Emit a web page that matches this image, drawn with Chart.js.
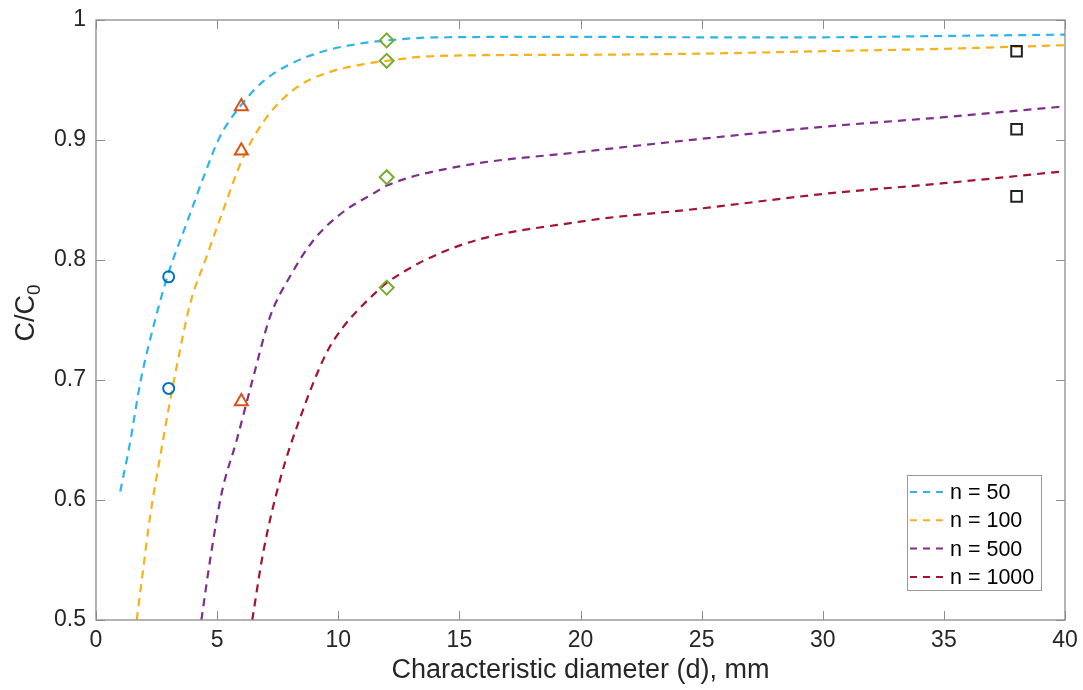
<!DOCTYPE html>
<html><head><meta charset="utf-8">
<script src="https://cdn.jsdelivr.net/npm/chart.js@4.4.1/dist/chart.umd.min.js"></script>
<style>html,body{margin:0;padding:0;background:#fff;}#wrap{width:1083px;height:690px;}</style>
</head><body><div id="wrap"><canvas id="c" width="1083" height="690"></canvas></div>
<script>
// ---- data ----
const seriesNames = ['n = 50', 'n = 100', 'n = 500', 'n = 1000'];
const n50X = [1.0, 1.4, 1.82, 2.3, 2.99, 3.75, 4.44, 5.12, 5.95, 6.91, 8.0, 9.4, 10.8, 12, 14, 20, 25, 30, 35, 40];
const n50Y = [0.607, 0.647, 0.697, 0.739, 0.789, 0.831, 0.869, 0.903, 0.928, 0.949, 0.963, 0.974, 0.980, 0.983, 0.9855, 0.986, 0.9856, 0.9856, 0.9867, 0.9878];
const n100X = [1.68, 1.96, 2.23, 2.58, 2.99, 3.33, 3.88, 4.57, 5.26, 6.09, 7.05, 8.3, 9.7, 11, 12, 14, 20, 25, 30, 35, 40];
const n100Y = [0.5, 0.544, 0.586, 0.628, 0.675, 0.711, 0.763, 0.803, 0.842, 0.886, 0.919, 0.944, 0.957, 0.963, 0.966, 0.970, 0.971, 0.972, 0.974, 0.976, 0.979];
const n500X = [4.35, 4.71, 5.19, 5.81, 6.5, 7.19, 8.0, 9.0, 10.2, 11.5, 12, 15, 20, 25, 30, 35, 40];
const n500Y = [0.5, 0.55, 0.606, 0.65, 0.703, 0.753, 0.786, 0.817, 0.840, 0.856, 0.862, 0.878, 0.890, 0.901, 0.911, 0.919, 0.928];
const n1000X = [6.45, 6.9, 7.6, 8.4, 9.5, 10.2, 10.8, 11.5, 12, 15, 20, 25, 30, 35, 40];
const n1000Y = [0.5, 0.556, 0.617, 0.667, 0.722, 0.744, 0.758, 0.772, 0.781, 0.812, 0.832, 0.843, 0.855, 0.864, 0.874];
const circleX = [3, 3];           const circleY = [0.786, 0.693];
const triX = [6, 6, 6];           const triY = [0.928, 0.891, 0.682];
const diaX = [12, 12, 12, 12];    const diaY = [0.983, 0.966, 0.869, 0.777];
const sqX = [38, 38, 38];         const sqY = [0.974, 0.909, 0.853];
const xTickValues = [0, 5, 10, 15, 20, 25, 30, 35, 40];
const yTickValues = [0.5, 0.6, 0.7, 0.8, 0.9, 1];
const xTitle = 'Characteristic diameter (d), mm';
const yTitleMain = 'C/C';
const yTitleSub = '0';

// ---- build ----
const pts = (xs, ys) => xs.map((x, i) => ({x: x, y: ys[i]}));
const curveColors = ['#2DB4EE', '#F8B118', '#7E2F8E', '#A2142F'];
const curveX = [n50X, n100X, n500X, n1000X];
const curveY = [n50Y, n100Y, n500Y, n1000Y];
const FONT = '"Liberation Sans", Arial, Helvetica, sans-serif';
const AXIS = '#262626';
const BOX = '#8c8c8c';

const datasets = [];
function marker(xs, ys, style, color, r) {
  datasets.push({data: pts(xs, ys), showLine: false, pointStyle: style, pointRadius: r,
    pointBackgroundColor: 'rgba(0,0,0,0)', pointBorderColor: color, pointBorderWidth: 2, order: 0, isMarker: true});
}
marker(circleX, circleY, 'circle', '#0072BD', 5.5);
marker(triX, triY, 'triangle', '#D95319', 7.5);
marker(diaX, diaY, 'rectRot', '#77AC30', 7);
marker(sqX, sqY, 'rect', '#222222', 7.5);
seriesNames.forEach((name, i) => {
  datasets.push({label: name, data: pts(curveX[i], curveY[i]), showLine: true, borderColor: curveColors[i],
    borderWidth: 2.2, borderDash: [8, 6], pointRadius: 0, cubicInterpolationMode: 'monotone', fill: false, order: 1});
});

const boxTicks = {
  id: 'boxTicks',
  afterDatasetsDraw(chart) {
    const {ctx, chartArea: a, scales: {x, y}} = chart;
    ctx.save();
    ctx.strokeStyle = BOX; ctx.lineWidth = 1.3;
    ctx.strokeRect(a.left, a.top, a.right - a.left, a.bottom - a.top);
    const L = 9;
    ctx.beginPath();
    x.ticks.forEach(t => {
      const px = Math.round(x.getPixelForValue(t.value)) + 0.5;
      ctx.moveTo(px, a.bottom); ctx.lineTo(px, a.bottom - L);
      ctx.moveTo(px, a.top); ctx.lineTo(px, a.top + L);
    });
    y.ticks.forEach(t => {
      const py = Math.round(y.getPixelForValue(t.value)) + 0.5;
      ctx.moveTo(a.left, py); ctx.lineTo(a.left + L, py);
      ctx.moveTo(a.right, py); ctx.lineTo(a.right - L, py);
    });
    ctx.lineWidth = 1; ctx.stroke();
    ctx.restore();
  }
};

const yTitlePlugin = {
  id: 'yTitlePlugin',
  afterDraw(chart) {
    const {ctx} = chart;
    ctx.save();
    const fMain = '27px ' + FONT, fSub = '19px ' + FONT;
    ctx.font = fMain; const w1 = ctx.measureText(yTitleMain).width;
    ctx.font = fSub; const w2 = ctx.measureText(yTitleSub).width;
    const total = w1 + w2;
    ctx.translate(34, 313);
    ctx.rotate(-Math.PI / 2);
    ctx.fillStyle = AXIS; ctx.textBaseline = 'alphabetic'; ctx.textAlign = 'left';
    ctx.font = fMain; ctx.fillText(yTitleMain, -total / 2, 0);
    ctx.font = fSub; ctx.fillText(yTitleSub, -total / 2 + w1, 6);
    ctx.restore();
  }
};

const legendBox = {
  id: 'legendBox',
  afterDraw(chart) {
    const {ctx, chartArea: a} = chart;
    const curves = chart.data.datasets.filter(d => !d.isMarker);
    const right = a.right - 24, bottom = a.bottom - 30, w = 134, h = 115;
    const left = right - w, top = bottom - h;
    ctx.save();
    ctx.fillStyle = '#fff'; ctx.fillRect(left, top, w, h);
    ctx.strokeStyle = '#9a9a9a'; ctx.lineWidth = 1;
    ctx.strokeRect(left + 0.5, top + 0.5, w, h);
    ctx.font = '21.5px ' + FONT; ctx.textBaseline = 'middle'; ctx.fillStyle = '#000';
    curves.forEach((d, i) => {
      const cy = top + 17 + i * 28.3;
      ctx.strokeStyle = d.borderColor; ctx.lineWidth = 2; ctx.setLineDash([7, 6]);
      ctx.beginPath(); ctx.moveTo(left + 3, cy); ctx.lineTo(left + 42, cy); ctx.stroke();
      ctx.setLineDash([]);
      ctx.fillText(d.label, left + 43, cy + 1);
    });
    ctx.restore();
  }
};

new Chart(document.getElementById('c'), {
  type: 'scatter',
  data: {datasets: datasets},
  options: {
    responsive: false, animation: false, devicePixelRatio: 1,
    layout: {padding: {left: 0, right: 18, top: 20, bottom: 0}},
    plugins: {legend: {display: false}, tooltip: {enabled: false}},
    scales: {
      x: {
        type: 'linear', min: 0, max: 40,
        afterBuildTicks: s => { s.ticks = xTickValues.map(v => ({value: v})); },
        afterFit: s => { s.height = 70; s.paddingLeft = 0; s.paddingRight = 0; },
        grid: {display: false, drawTicks: false}, border: {display: false},
        ticks: {color: AXIS, font: {family: FONT, size: 23}, padding: 7, maxRotation: 0, autoSkip: false,
          callback: v => String(v)},
        title: {display: true, text: xTitle, color: AXIS, font: {family: FONT, size: 27}, padding: {top: 0, bottom: 3}}
      },
      y: {
        type: 'linear', min: 0.5, max: 1,
        afterBuildTicks: s => { s.ticks = yTickValues.map(v => ({value: v})); },
        afterFit: s => { s.width = 96; s.paddingTop = 0; s.paddingBottom = 0; },
        grid: {display: false, drawTicks: false}, border: {display: false},
        ticks: {color: AXIS, font: {family: FONT, size: 23}, padding: 10, autoSkip: false,
          callback: v => String(Math.round(v * 10) / 10)},
        title: {display: false}
      }
    }
  },
  plugins: [boxTicks, legendBox, yTitlePlugin]
});
</script></body></html>
